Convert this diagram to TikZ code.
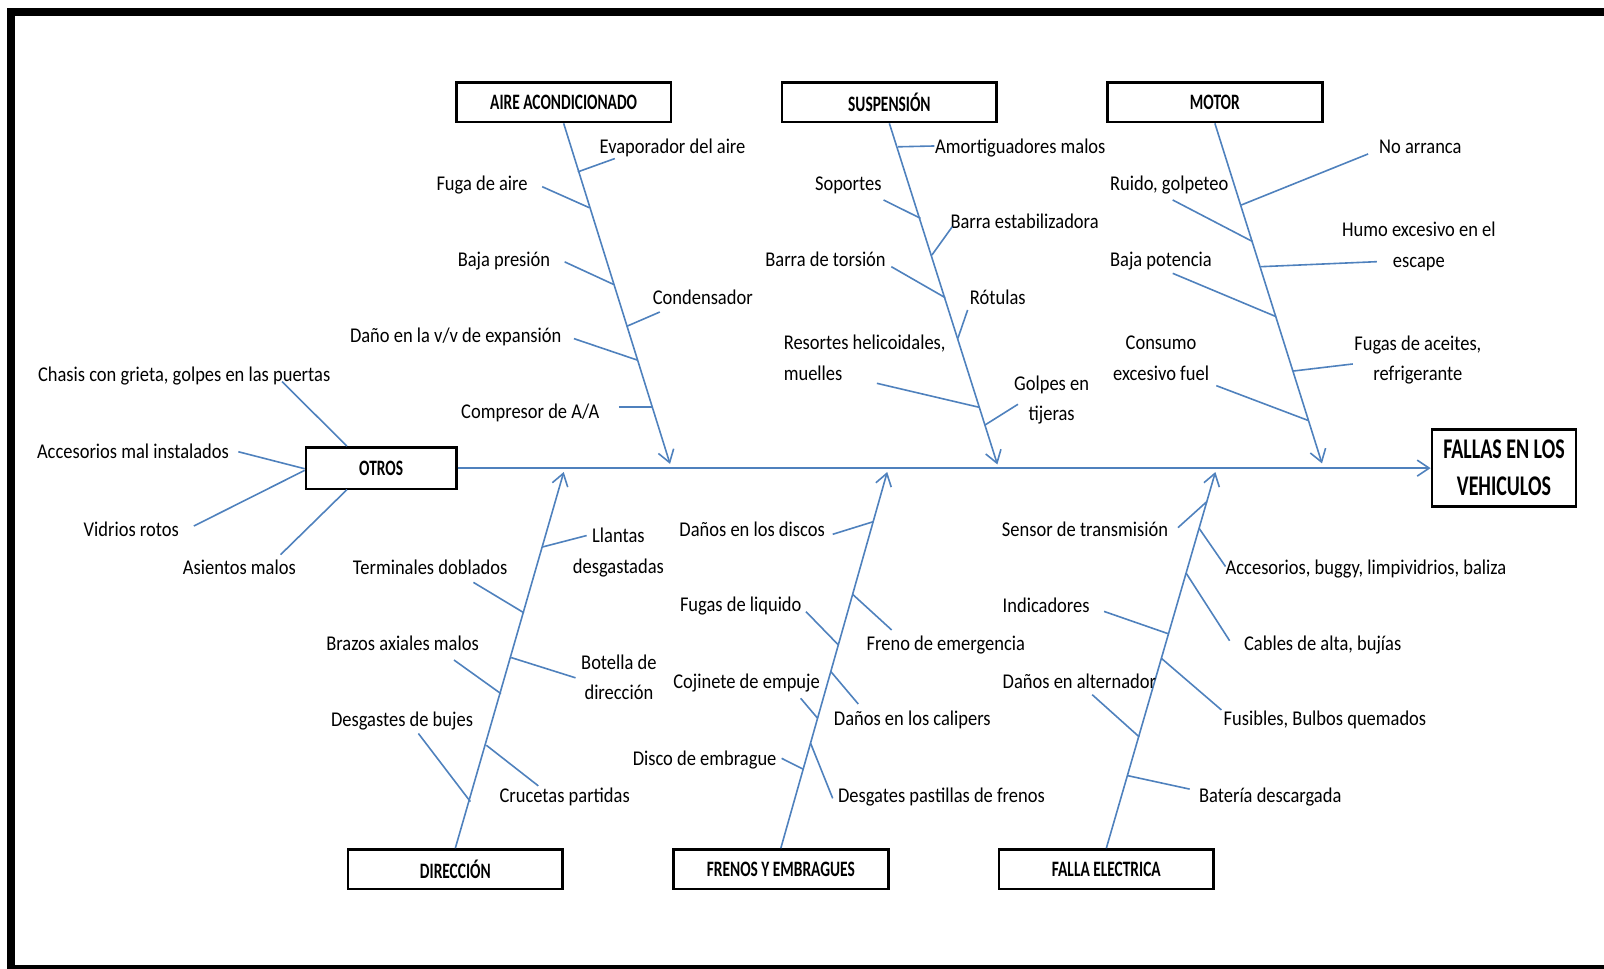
\documentclass[tikz,border=0pt]{standalone}
\usepackage{fontspec}
\setmainfont{Carlito}[FakeStretch=0.88]
\newfontfamily\headfont{Carlito}[FakeStretch=0.70]
\usetikzlibrary{arrows.meta,calc}
\definecolor{boneblue}{RGB}{79,129,189}

\begin{document}
\begin{tikzpicture}[x=1.023pt,y=-1.023pt,
  lbl/.style={font=\fontsize{21}{30.7}\selectfont, inner sep=0pt, text height=15.5pt, text depth=4pt},
  lbl2/.style={font=\fontsize{21}{30.7}\selectfont, inner sep=0pt},
  catbox/.style={draw=black, line width=2.8pt, fill=white, inner sep=0pt,
    minimum width=214.6pt, minimum height=39.5pt,
    font=\headfont\bfseries\fontsize{22}{26}\selectfont},
  bone/.style={draw=boneblue, line width=1.6pt, -{Straight Barb[length=12pt,width=16pt]}},
  twig/.style={draw=boneblue, line width=1.6pt},
]
\useasboundingbox (0,0) rectangle (1568,947);
\clip (0,0) rectangle (1568,947);

% outer frame (open on the right)
\draw[line width=7.7pt, line join=miter] (1600,11.9) -- (10.9,11.9) -- (10.9,947.2) -- (1600,947.2);

% category boxes
\node[catbox] (aire)  at (551,99.9)    {AIRE ACONDICIONADO};
\node[catbox] (susp)  at (869.4,99.9)  {SUSPENSIÓN};
\node[catbox] (motor) at (1187.6,99.9) {MOTOR};
\node[catbox] (dir)   at (445.1,849.8) {DIRECCIÓN};
\node[catbox] (fren)  at (763.3,849.8) {FRENOS Y EMBRAGUES};
\node[catbox] (elec)  at (1081.5,849.8){FALLA ELECTRICA};
\node[catbox, minimum width=150.2pt, minimum height=41.7pt] (otros) at (372.6,457.6) {OTROS};
\node[catbox, minimum width=143.9pt, minimum height=77.2pt, align=center,
      font=\headfont\bfseries\fontsize{28.5}{36.8}\selectfont] (efecto) at (1470.2,457.6) {FALLAS EN LOS\\VEHICULOS};

% spine
\draw[bone] (otros.east) -- (efecto.west);

% arrow tips of the main bones
\coordinate (aT) at (655,453.5);
\coordinate (sT) at (975,454);
\coordinate (mT) at (1292.3,453);
\coordinate (dT) at (551.1,461.4);
\coordinate (fT) at (867.3,461.4);
\coordinate (eT) at (1188.1,461.4);
\draw[bone] (aire.south)  -- (aT);
\draw[bone] (susp.south)  -- (sT);
\draw[bone] (motor.south) -- (mT);
\draw[bone] (dir.north)   -- (dT);
\draw[bone] (fren.north)  -- (fT);
\draw[bone] (elec.north)  -- (eT);

% ---------------- AIRE ACONDICIONADO ----------------
\node[lbl,anchor=west] (a1) at (586,144) {Evaporador del aire};
\node[lbl,anchor=east] (a2) at (516,181) {Fuga de aire};
\node[lbl,anchor=east] (a3) at (538,255) {Baja presión};
\node[lbl,anchor=west] (a4) at (638,292) {Condensador};
\node[lbl,anchor=east] (a5) at (549,329) {Daño en la v/v de expansión};
\node[lbl,anchor=east] (a6) at (586,403) {Compresor de A/A};
\coordinate (a1o) at (601,155);   \coordinate (a1i) at (564.9,168);
\coordinate (a2o) at (530,182.5); \coordinate (a2i) at (576,203);
\coordinate (a3o) at (552,256);   \coordinate (a3i) at (599.7,278);
\coordinate (a4o) at (645,305);   \coordinate (a4i) at (612.6,319);
\coordinate (a5o) at (561,331);   \coordinate (a5i) at (623,352);
\coordinate (a6o) at (605,398);   \coordinate (a6i) at (637.6,398);
\foreach \k in {1,...,6} {\draw[twig] (a\k o) -- (a\k i);}

% ---------------- SUSPENSION ----------------
\node[lbl,anchor=west] (s1) at (914,144) {Amortiguadores malos};
\node[lbl,anchor=east] (s2) at (862,181) {Soportes};
\node[lbl,anchor=west] (s3) at (929,218) {Barra estabilizadora};
\node[lbl,anchor=east] (s4) at (866,255) {Barra de torsión};
\node[lbl,anchor=west] (s5) at (948,292) {Rótulas};
\node[lbl2,anchor=west,align=left] (s6) at (766,350) {Resortes helicoidales,\\muelles};
\node[lbl2,align=center] (s7) at (1028,391) {Golpes en\\tijeras};
\coordinate (s1o) at (913.4,142.7); \coordinate (s1i) at (877.9,143.5);
\coordinate (s2o) at (863.7,195.5); \coordinate (s2i) at (899.8,213.4);
\coordinate (s3o) at (930.9,221.6); \coordinate (s3i) at (911,249.3);
\coordinate (s4o) at (871.3,260.7); \coordinate (s4i) at (924,291);
\coordinate (s5o) at (945.9,303);   \coordinate (s5i) at (936.4,330.7);
\coordinate (s6o) at (857.2,374.7); \coordinate (s6i) at (957.4,398.2);
\coordinate (s7o) at (995.1,395.2); \coordinate (s7i) at (962.8,415.5);
\foreach \k in {1,...,7} {\draw[twig] (s\k o) -- (s\k i);}

% ---------------- MOTOR ----------------
\node[lbl,anchor=west] (m1) at (1348,144) {No arranca};
\node[lbl,anchor=west] (m2) at (1085,181) {Ruido, golpeteo};
\node[lbl2,align=center] (m3) at (1387,241) {Humo excesivo en el\\escape};
\node[lbl,anchor=west] (m4) at (1085,255) {Baja potencia};
\node[lbl2,align=center] (m5) at (1386,352) {Fugas de aceites,\\refrigerante};
\node[lbl2,align=center] (m6) at (1135,350) {Consumo\\excesivo fuel};
\coordinate (m1o) at (1337.4,150.5); \coordinate (m1i) at (1213.4,200.4);
\coordinate (m2o) at (1146.4,195.5); \coordinate (m2i) at (1224.6,236.2);
\coordinate (m3o) at (1346,255.8);   \coordinate (m3i) at (1232.3,260.7);
\coordinate (m4o) at (1146.4,267.2); \coordinate (m4i) at (1247.6,309.6);
\coordinate (m5o) at (1322.4,355.8); \coordinate (m5i) at (1264.2,362.7);
\coordinate (m6o) at (1189,377);     \coordinate (m6i) at (1279.3,411.2);
\foreach \k in {1,...,6} {\draw[twig] (m\k o) -- (m\k i);}

% ---------------- OTROS ----------------
\node[lbl,anchor=west] (o1) at (37,367) {Chasis con grieta, golpes en las puertas};
\node[lbl,anchor=east] (o2) at (224,443) {Accesorios mal instalados};
\node[lbl,anchor=east] (o3) at (175,519) {Vidrios rotos};
\node[lbl] (o4) at (234,556) {Asientos malos};
\coordinate (o1o) at (275.7,373);   \coordinate (o1i) at (339,436);
\coordinate (o2o) at (233,441.6);   \coordinate (o2i) at (297.8,458.2);
\coordinate (o3o) at (189.5,514.2); \coordinate (o3i) at (297.8,459.8);
\coordinate (o4o) at (274.3,542.2); \coordinate (o4i) at (339.2,478.6);
\foreach \k in {1,...,4} {\draw[twig] (o\k o) -- (o\k i);}

% ---------------- DIRECCION ----------------
\node[lbl2,align=center] (d1) at (604.5,540) {Llantas\\desgastadas};
\node[lbl] (d2) at (420.5,556) {Terminales doblados};
\node[lbl] (d3) at (393.5,630) {Brazos axiales malos};
\node[lbl2,align=center] (d4) at (605,662) {Botella de\\dirección};
\node[lbl] (d5) at (393,705) {Desgastes de bujes};
\node[lbl] (d6) at (552,779) {Crucetas partidas};
\coordinate (d1o) at (573.5,523.5); \coordinate (d1i) at (530.3,534.7);
\coordinate (d2o) at (462.8,569.3); \coordinate (d2i) at (512.1,599);
\coordinate (d3o) at (443.8,645.2); \coordinate (d3i) at (489.7,678.1);
\coordinate (d4o) at (562.6,662.6); \coordinate (d4i) at (499.7,642.8);
\coordinate (d5o) at (409,717);     \coordinate (d5i) at (459.8,783.6);
\coordinate (d6o) at (526.2,768.2); \coordinate (d6i) at (475.4,728.5);
\foreach \k in {1,...,6} {\draw[twig] (d\k o) -- (d\k i);}

% ---------------- FRENOS Y EMBRAGUES ----------------
\node[lbl,anchor=east] (f1) at (806.5,518.5) {Daños en los discos};
\node[lbl,anchor=east] (f2) at (783.7,592.5) {Fugas de liquido};
\node[lbl,anchor=east] (f3) at (801.6,667.5) {Cojinete de empuje};
\node[lbl,anchor=east] (f4) at (759.2,742.5) {Disco de embrague};
\node[lbl,anchor=west] (f5) at (847,630) {Freno de emergencia};
\node[lbl,anchor=west] (f6) at (815,704) {Daños en los calipers};
\node[lbl,anchor=west] (f7) at (819,779) {Desgates pastillas de frenos};
\coordinate (f1o) at (814,522.3);   \coordinate (f1i) at (853.6,510);
\coordinate (f2o) at (787.9,597.9); \coordinate (f2i) at (819.6,630.5);
\coordinate (f3o) at (782.7,682.6); \coordinate (f3i) at (799.3,702.2);
\coordinate (f4o) at (764.1,741.3); \coordinate (f4i) at (785.3,752);
\coordinate (f5o) at (871.6,615.8); \coordinate (f5i) at (833.5,581);
\coordinate (f6o) at (839,688.2);   \coordinate (f6i) at (812.2,656.5);
\coordinate (f7o) at (814,780.4);   \coordinate (f7i) at (792.4,726.6);
\foreach \k in {1,...,7} {\draw[twig] (f\k o) -- (f\k i);}

% ---------------- FALLA ELECTRICA ----------------
\node[lbl,anchor=east] (e1) at (1142,519) {Sensor de transmisión};
\node[lbl,anchor=west] (e2) at (1198,556) {Accesorios, buggy, limpividrios, baliza};
\node[lbl,anchor=west] (e3) at (980,593) {Indicadores};
\node[lbl,anchor=west] (e4) at (1216,630) {Cables de alta, bujías};
\node[lbl,anchor=west] (e5) at (980,667) {Daños en alternador};
\node[lbl,anchor=west] (e6) at (1196,704) {Fusibles, Bulbos quemados};
\node[lbl,anchor=west] (e7) at (1172,779) {Batería descargada};
\coordinate (e1o) at (1151.5,515.8); \coordinate (e1i) at (1179.7,490.4);
\coordinate (e2o) at (1198,553.8);   \coordinate (e2i) at (1172.2,516.5);
\coordinate (e3o) at (1079.3,597.7); \coordinate (e3i) at (1142.6,619.7);
\coordinate (e4o) at (1202,626.3);   \coordinate (e4i) at (1159.6,560.4);
\coordinate (e5o) at (1067.7,679.1); \coordinate (e5i) at (1113.6,720.3);
\coordinate (e6o) at (1194,694);     \coordinate (e6i) at (1135.6,643.8);
\coordinate (e7o) at (1163,771.4);   \coordinate (e7i) at (1102.7,758.3);
\foreach \k in {1,...,7} {\draw[twig] (e\k o) -- (e\k i);}
\end{tikzpicture}
\end{document}
